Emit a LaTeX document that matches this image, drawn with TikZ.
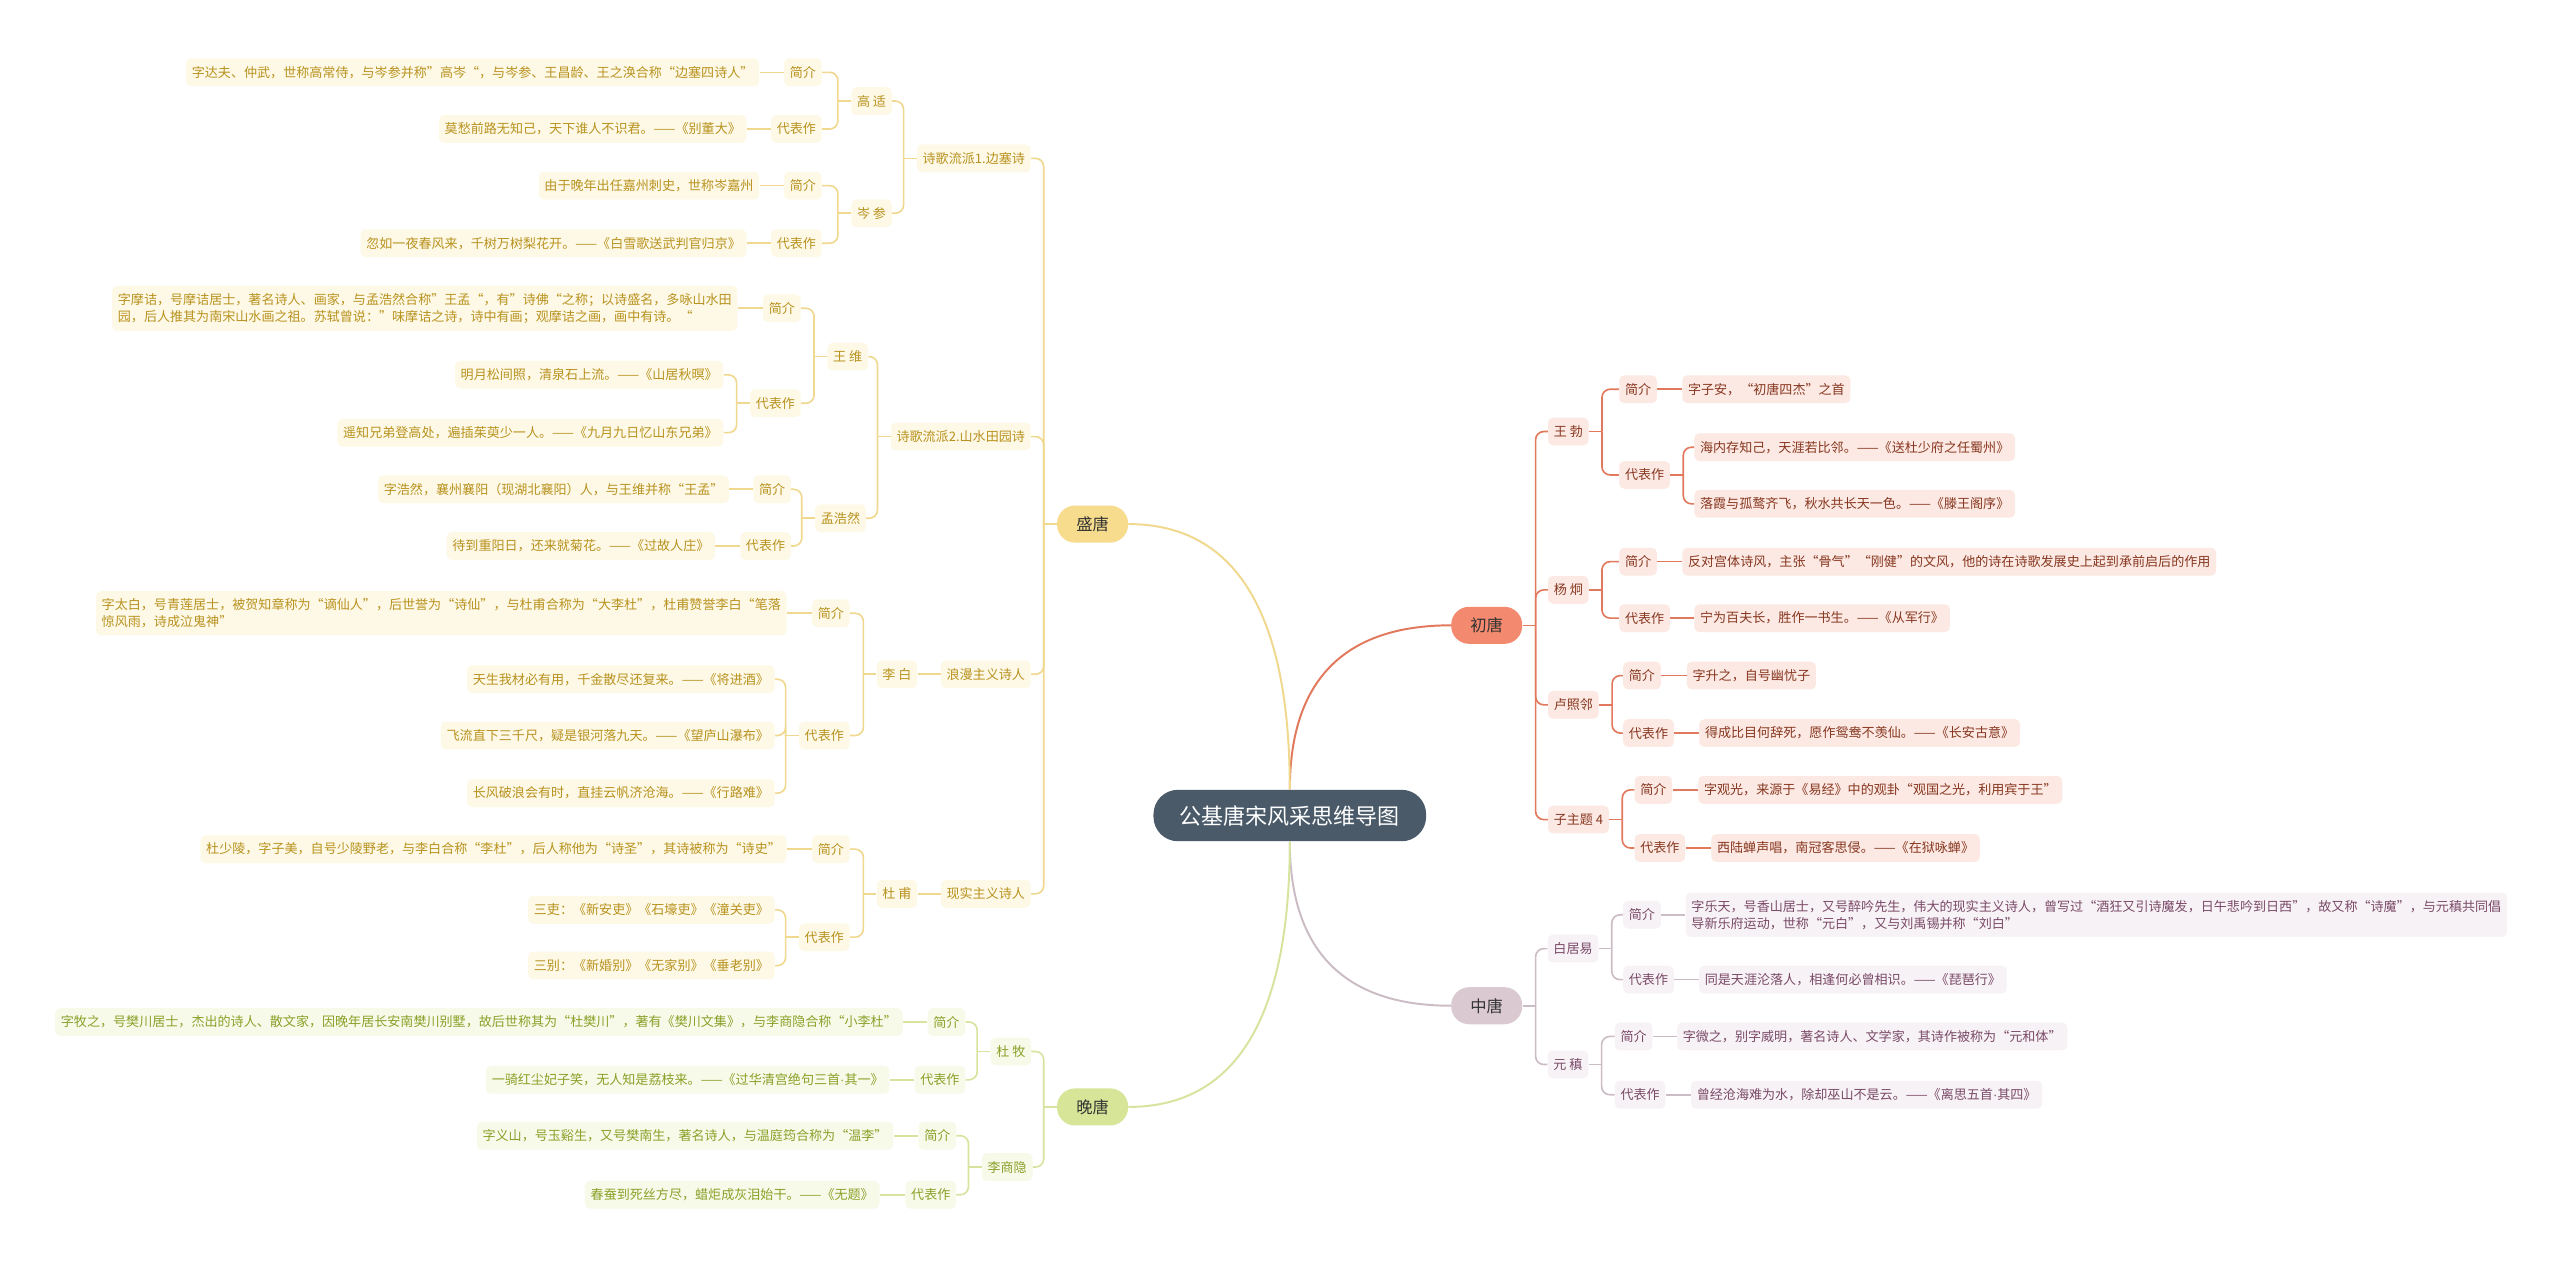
\documentclass[tikz,border=0pt]{standalone}
\usepackage{fontspec}
\setmainfont{Noto Sans CJK SC}
\newfontfamily\latinfont{Liberation Sans}
\usepackage{tikz}
\usepackage{xcolor}
\definecolor{rootfill}{RGB}{74,90,105}
\definecolor{shengline}{RGB}{240,216,142}
\definecolor{shengbg}{RGB}{254,249,231}
\definecolor{shengtxt}{RGB}{184,146,30}
\definecolor{shengpill}{RGB}{246,220,140}
\definecolor{wanline}{RGB}{214,228,158}
\definecolor{wanbg}{RGB}{247,250,233}
\definecolor{wantxt}{RGB}{138,160,40}
\definecolor{wanpill}{RGB}{214,229,152}
\definecolor{chuline}{RGB}{226,120,92}
\definecolor{chubg}{RGB}{252,233,227}
\definecolor{chutxt}{RGB}{135,55,32}
\definecolor{chupill}{RGB}{243,137,110}
\definecolor{zhongline}{RGB}{204,188,197}
\definecolor{zhongbg}{RGB}{247,242,245}
\definecolor{zhongtxt}{RGB}{122,74,104}
\definecolor{zhongpill}{RGB}{219,201,210}

\begin{document}
\begin{tikzpicture}[x=1pt, y=-1pt,
    every node/.style={font=\fontsize{8}{10.5}\selectfont},
    root/.style={fill=rootfill, text=white, rounded corners=15pt, minimum height=31.5pt,
      inner xsep=16pt, font=\fontsize{13.5}{16}\selectfont},
    era/.style={fill=#1, text=black!80, rounded corners=11pt, minimum width=43.5pt,
      minimum height=22.7pt, inner sep=0pt, font=\fontsize{10}{12}\selectfont},
    tag/.style={rounded corners=3pt, inner xsep=3.5pt, inner ysep=4.5pt, minimum height=17pt, align=left},
    sheng/.style={tag, fill=shengbg, text=shengtxt, anchor=east},
    wan/.style={tag, fill=wanbg, text=wantxt, anchor=east},
    chu/.style={tag, fill=chubg, text=chutxt, anchor=west},
    zhong/.style={tag, fill=zhongbg, text=zhongtxt, anchor=west},
    link/.style={draw=#1, line width=1pt, rounded corners=5pt}]
    \useasboundingbox[fill=white] (0,0) rectangle (1568,774);

    % ── Root and eras ───────────────────────────────────────────────────────
    \node[root] (root) at (790,499.5) {公基唐宋风采思维导图};
    \node[era=chupill]   (chutang)   at (910.6,383) {初唐};
    \node[era=zhongpill] (zhongtang) at (910.6,616) {中唐};
    \node[era=shengpill] (shengtang) at (669.2,321) {盛唐};
    \node[era=wanpill]   (wantang)   at (669.2,678) {晚唐};

    \draw[link=chuline,line width=1.2pt] (root.north) to[out=90,in=180,looseness=1.2] (chutang.west);
    \draw[link=zhongline,line width=1.2pt] (root.south) to[out=-90,in=180,looseness=1.2] (zhongtang.west);
    \draw[link=shengline,line width=1.2pt] (root.north) to[out=90,in=0,out looseness=1.46,in looseness=0.88] (shengtang.east);
    \draw[link=wanline,line width=1.2pt] (root.south) to[out=-90,in=0,out looseness=1.46,in looseness=0.88] (wantang.east);

    % ── 初唐 ────────────────────────────────────────────────────────────────
    \node[chu] (wangbo)    at (948,264.3) {王 勃};
    \node[chu] (yangjiong) at (948,361.3) {杨 炯};
    \node[chu] (luzhaolin) at (948,431.7) {卢照邻};
    \node[chu] (zizhuti)   at (948,502)   {子主题 4};
    \draw[link=chuline] (chutang.east) -- ++(8,0) coordinate (jChu);
    \foreach \c in {wangbo,yangjiong,luzhaolin,zizhuti}
      \draw[link=chuline] (jChu) |- (\c.west);

    \node[chu] (wbIntro)  at (991.6,238.4)  {简介};
    \node[chu] (wbIntroA) at (1030.2,238.4) {字子安，“初唐四杰”之首};
    \node[chu] (wbWork)   at (991.6,290.9)  {代表作};
    \node[chu] (wbWorkA)  at (1037.6,273.9) {海内存知己，天涯若比邻。——《送杜少府之任蜀州》};
    \node[chu] (wbWorkB)  at (1037.6,308.6) {落霞与孤鹜齐飞，秋水共长天一色。——《滕王阁序》};

    \node[chu] (yjIntro)  at (991.6,344)    {简介};
    \node[chu] (yjIntroA) at (1030.2,344)   {反对宫体诗风，主张“骨气”“刚健”的文风，他的诗在诗歌发展史上起到承前启后的作用};
    \node[chu] (yjWork)   at (991.6,378.6)  {代表作};
    \node[chu] (yjWorkA)  at (1037.6,378.6) {宁为百夫长，胜作一书生。——《从军行》};

    \node[chu] (lzIntro)  at (994,413.8)    {简介};
    \node[chu] (lzIntroA) at (1033,413.8)   {字升之，自号幽忧子};
    \node[chu] (lzWork)   at (994,449)      {代表作};
    \node[chu] (lzWorkA)  at (1040.6,449)   {得成比目何辞死，愿作鸳鸯不羡仙。——《长安古意》};

    \node[chu] (zzIntro)  at (1001,483.8)   {简介};
    \node[chu] (zzIntroA) at (1040,483.8)   {字观光，来源于《易经》中的观卦“观国之光，利用宾于王”};
    \node[chu] (zzWork)   at (1001,519.4)   {代表作};
    \node[chu] (zzWorkA)  at (1048,519.4)   {西陆蝉声唱，南冠客思侵。——《在狱咏蝉》};

    \foreach \p/\kids in {wangbo/{wbIntro,wbWork}, yangjiong/{yjIntro,yjWork},
        luzhaolin/{lzIntro,lzWork}, zizhuti/{zzIntro,zzWork}, wbWork/{wbWorkA,wbWorkB}} {
      \draw[link=chuline] (\p.east) -- ++(8,0) coordinate (j\p);
      \foreach \c in \kids
        \draw[link=chuline] (j\p) |- (\c.west);
    }
    \foreach \p/\c in {wbIntro/wbIntroA, yjIntro/yjIntroA, yjWork/yjWorkA,
        lzIntro/lzIntroA, lzWork/lzWorkA, zzIntro/zzIntroA, zzWork/zzWorkA}
      \draw[link=chuline] (\p.east) -- (\c.west);

    % ── 中唐 ────────────────────────────────────────────────────────────────
    \node[zhong] (baijuyi)  at (947.8,581) {白居易};
    \node[zhong] (yuanzhen) at (947.8,652) {元 稹};
    \draw[link=zhongline] (zhongtang.east) -- ++(8,0) coordinate (jZhong);
    \foreach \c in {baijuyi,yuanzhen}
      \draw[link=zhongline] (jZhong) |- (\c.west);

    \node[zhong] (bjIntro)  at (994,560.3)    {简介};
    \node[zhong] (bjIntroA) at (1032.3,560.3) {字乐天，号香山居士，又号醉吟先生，伟大的现实主义诗人，曾写过“酒狂又引诗魔发，日午悲吟到日西”，故又称“诗魔”，与元稹共同倡\\导新乐府运动，世称“元白”，又与刘禹锡并称“刘白”};
    \node[zhong] (bjWork)   at (994,600)      {代表作};
    \node[zhong] (bjWorkA)  at (1040.5,600)   {同是天涯沦落人，相逢何必曾相识。——《琵琶行》};
    \node[zhong] (yzIntro)  at (988.9,634.8)  {简介};
    \node[zhong] (yzIntroA) at (1027,634.8)   {字微之，别字威明，著名诗人、文学家，其诗作被称为“元和体”};
    \node[zhong] (yzWork)   at (988.9,670.5)  {代表作};
    \node[zhong] (yzWorkA)  at (1035.6,670.5) {曾经沧海难为水，除却巫山不是云。——《离思五首{\latinfont ·}其四》};

    \foreach \p/\kids in {baijuyi/{bjIntro,bjWork}, yuanzhen/{yzIntro,yzWork}} {
      \draw[link=zhongline] (\p.east) -- ++(8,0) coordinate (j\p);
      \foreach \c in \kids
        \draw[link=zhongline] (j\p) |- (\c.west);
    }
    \foreach \p/\c in {bjIntro/bjIntroA, bjWork/bjWorkA, yzIntro/yzIntroA, yzWork/yzWorkA}
      \draw[link=zhongline] (\p.east) -- (\c.west);

    % ── 盛唐 ────────────────────────────────────────────────────────────────
    \node[sheng] (liupaiA) at (631.5,97)    {诗歌流派1.边塞诗};
    \node[sheng] (liupaiB) at (631.5,267.4) {诗歌流派2.山水田园诗};
    \node[sheng] (langman) at (631.5,413)   {浪漫主义诗人};
    \node[sheng] (xianshi) at (631.5,547.5) {现实主义诗人};
    \draw[link=shengline] (shengtang.west) -- ++(-8,0) coordinate (jSheng);
    \foreach \c in {liupaiA,liupaiB,langman,xianshi}
      \draw[link=shengline] (jSheng) |- (\c.east);

    \node[sheng] (gaoshi)     at (546.4,61.9)  {高 适};
    \node[sheng] (censhen)    at (546.4,130.6) {岑 参};
    \node[sheng] (wangwei)    at (531.8,218.4) {王 维};
    \node[sheng] (menghaoran) at (530.5,317.4) {孟浩然};
    \node[sheng] (libai)      at (562,413)     {李 白};
    \node[sheng] (dufu)       at (562,547.5)   {杜 甫};

    \node[sheng] (gsIntro)  at (503.5,44.3)  {简介};
    \node[sheng] (gsIntroA) at (465.2,44.3)  {字达夫、仲武，世称高常侍，与岑参并称”高岑“，与岑参、王昌龄、王之涣合称“边塞四诗人”};
    \node[sheng] (gsWork)   at (503.5,79)    {代表作};
    \node[sheng] (gsWorkA)  at (457.5,79)    {莫愁前路无知己，天下谁人不识君。——《别董大》};
    \node[sheng] (csIntro)  at (503.5,113.7) {简介};
    \node[sheng] (csIntroA) at (465.2,113.7) {由于晚年出任嘉州刺史，世称岑嘉州};
    \node[sheng] (csWork)   at (503.5,149)   {代表作};
    \node[sheng] (csWorkA)  at (457.5,149)   {忽如一夜春风来，千树万树梨花开。——《白雪歌送武判官归京》};

    \node[sheng] (wwIntro)  at (490.6,188.8) {简介};
    \node[sheng] (wwIntroA) at (451.9,188.8) {字摩诘，号摩诘居士，著名诗人、画家，与孟浩然合称”王孟“，有”诗佛“之称；以诗盛名，多咏山水田\\园，后人推其为南宋山水画之祖。苏轼曾说：”味摩诘之诗，诗中有画；观摩诘之画，画中有诗。“};
    \node[sheng] (wwWork)   at (490.6,247)   {代表作};
    \node[sheng] (wwWorkA)  at (443.3,229.6) {明月松间照，清泉石上流。——《山居秋暝》};
    \node[sheng] (wwWorkB)  at (443.3,265)   {遥知兄弟登高处，遍插茱萸少一人。——《九月九日忆山东兄弟》};
    \node[sheng] (mhIntro)  at (484.6,299.7) {简介};
    \node[sheng] (mhIntroA) at (446.8,299.7) {字浩然，襄州襄阳（现湖北襄阳）人，与王维并称“王孟”};
    \node[sheng] (mhWork)   at (484.6,334.4) {代表作};
    \node[sheng] (mhWorkA)  at (438.2,334.4) {待到重阳日，还来就菊花。——《过故人庄》};

    \node[sheng] (lbIntro)  at (520.6,375.6) {简介};
    \node[sheng] (lbIntroA) at (482,375.6)   {字太白，号青莲居士，被贺知章称为“谪仙人”，后世誉为“诗仙”，与杜甫合称为“大李杜”，杜甫赞誉李白“笔落\\惊风雨，诗成泣鬼神”};
    \node[sheng] (lbWork)   at (520.6,450.5) {代表作};
    \node[sheng] (lbWorkA)  at (474.7,416)   {天生我材必有用，千金散尽还复来。——《将进酒》};
    \node[sheng] (lbWorkB)  at (474.7,450.5) {飞流直下三千尺，疑是银河落九天。——《望庐山瀑布》};
    \node[sheng] (lbWorkC)  at (474.7,485.8) {长风破浪会有时，直挂云帆济沧海。——《行路难》};
    \node[sheng] (dfIntro)  at (520.6,520.1) {简介};
    \node[sheng] (dfIntroA) at (482,520.1)   {杜少陵，字子美，自号少陵野老，与李白合称“李杜”，后人称他为“诗圣”，其诗被称为“诗史”};
    \node[sheng] (dfWork)   at (520.6,574)   {代表作};
    \node[sheng] (dfWorkA)  at (474.7,557.3) {三吏：《新安吏》《石壕吏》《潼关吏》};
    \node[sheng] (dfWorkB)  at (474.7,591.4) {三别：《新婚别》《无家别》《垂老别》};

    \foreach \p/\kids in {liupaiA/{gaoshi,censhen}, liupaiB/{wangwei,menghaoran},
        gaoshi/{gsIntro,gsWork}, censhen/{csIntro,csWork}, wangwei/{wwIntro,wwWork},
        menghaoran/{mhIntro,mhWork}, libai/{lbIntro,lbWork}, dufu/{dfIntro,dfWork},
        wwWork/{wwWorkA,wwWorkB}, lbWork/{lbWorkA,lbWorkB,lbWorkC}, dfWork/{dfWorkA,dfWorkB}} {
      \draw[link=shengline] (\p.west) -- ++(-8,0) coordinate (j\p);
      \foreach \c in \kids
        \draw[link=shengline] (j\p) |- (\c.east);
    }
    \foreach \p/\c in {langman/libai, xianshi/dufu, gsIntro/gsIntroA, gsWork/gsWorkA,
        csIntro/csIntroA, csWork/csWorkA, wwIntro/wwIntroA, mhIntro/mhIntroA,
        mhWork/mhWorkA, lbIntro/lbIntroA, dfIntro/dfIntroA}
      \draw[link=shengline] (\p.west) -- (\c.east);

    % ── 晚唐 ────────────────────────────────────────────────────────────────
    \node[wan] (dumu)       at (631.7,644)   {杜 牧};
    \node[wan] (lishangyin) at (632.6,714.8) {李商隐};
    \draw[link=wanline] (wantang.west) -- ++(-8,0) coordinate (jWan);
    \foreach \c in {dumu,lishangyin}
      \draw[link=wanline] (jWan) |- (\c.east);

    \node[wan] (dmIntro)  at (591.4,626)   {简介};
    \node[wan] (dmIntroA) at (553,626)     {字牧之，号樊川居士，杰出的诗人、散文家，因晚年居长安南樊川别墅，故后世称其为“杜樊川”，著有《樊川文集》，与李商隐合称“小李杜”};
    \node[wan] (dmWork)   at (591.4,661.4) {代表作};
    \node[wan] (dmWorkA)  at (545,661.4)   {一骑红尘妃子笑，无人知是荔枝来。——《过华清宫绝句三首{\latinfont ·}其一》};
    \node[wan] (lsIntro)  at (585.8,695.6) {简介};
    \node[wan] (lsIntroA) at (547.3,695.6) {字义山，号玉谿生，又号樊南生，著名诗人，与温庭筠合称为“温李”};
    \node[wan] (lsWork)   at (585.8,731.8) {代表作};
    \node[wan] (lsWorkA)  at (538.9,731.8) {春蚕到死丝方尽，蜡炬成灰泪始干。——《无题》};

    \foreach \p/\kids in {dumu/{dmIntro,dmWork}, lishangyin/{lsIntro,lsWork}} {
      \draw[link=wanline] (\p.west) -- ++(-8,0) coordinate (j\p);
      \foreach \c in \kids
        \draw[link=wanline] (j\p) |- (\c.east);
    }
    \foreach \p/\c in {dmIntro/dmIntroA, dmWork/dmWorkA, lsIntro/lsIntroA, lsWork/lsWorkA}
      \draw[link=wanline] (\p.west) -- (\c.east);
  \end{tikzpicture}
\end{document}
